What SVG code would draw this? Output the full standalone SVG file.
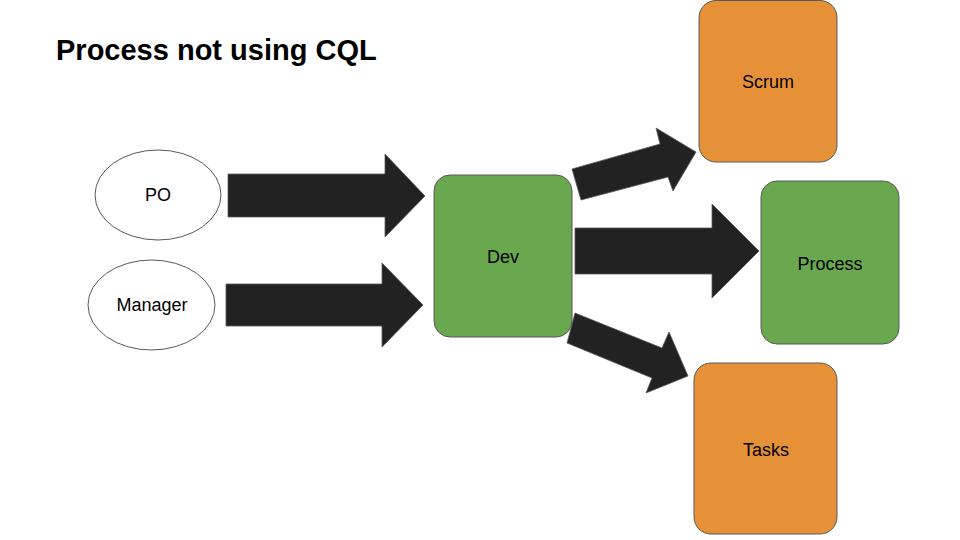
<svg xmlns="http://www.w3.org/2000/svg" width="960" height="540" viewBox="0 0 960 540">
<style>
text{font-family:"Liberation Sans",Arial,sans-serif;fill:#000}
.lbl{font-size:18px;text-anchor:middle}
.ell{fill:#fff;stroke:#595959;stroke-width:1}
.green{fill:#6aa84f;stroke:#595959;stroke-width:1}
.orange{fill:#e69138;stroke:#595959;stroke-width:1}
.arr{fill:#222;stroke:#595959;stroke-width:0.8}
</style>
<rect width="960" height="540" fill="#fff"/>
<text x="56" y="60" font-size="29" font-weight="bold">Process not using CQL</text>
<g id="connectors">
<polygon class="arr" points="228,174 385,174 385,154 425,196 385,237 385,217 228,217"/>
<polygon class="arr" points="226,284 382,284 382,263 423,305 382,347 382,326 226,326"/>
<polygon class="arr" points="575,228 712,228 712,204 759,251 712,298 712,274 575,274"/>
<polygon class="arr" points="572,169 660,144 656,128 696,152 673,191 668,177 581,200"/>
<polygon class="arr" points="575,313 662,348 669,332 688,376 646,393 652,378 567,343"/>
</g>
<g id="po"><ellipse class="ell" cx="158" cy="195" rx="63" ry="45"/><text class="lbl" x="158" y="201" font-size="16">PO</text></g>
<g id="manager"><ellipse class="ell" cx="151.5" cy="305" rx="63.5" ry="45"/><text class="lbl" x="152" y="311" font-size="16">Manager</text></g>
<g id="dev"><rect class="green" x="434" y="175" width="138" height="162" rx="16"/><text class="lbl" x="503" y="263">Dev</text></g>
<g id="scrum"><rect class="orange" x="699" y="0.5" width="138" height="161.5" rx="17"/><text class="lbl" x="768" y="88">Scrum</text></g>
<g id="process"><rect class="green" x="761" y="181" width="138" height="163" rx="16"/><text class="lbl" x="830" y="270">Process</text></g>
<g id="tasks"><rect class="orange" x="694" y="363" width="143" height="171" rx="17"/><text class="lbl" x="766" y="456">Tasks</text></g>
</svg>
